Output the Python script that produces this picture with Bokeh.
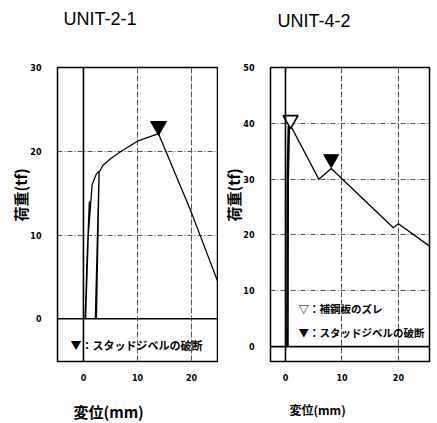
import math
from bokeh.plotting import figure
from bokeh.models import Range1d, FixedTicker, Span, Label, Title
from bokeh.layouts import row
from bokeh.embed import file_html
from bokeh.resources import INLINE

# ---- data ----
titles = ["UNIT-2-1", "UNIT-4-2"]
y_label = "荷重(tf)"
x_label = "変位(mm)"
legend_slip = "▽：補鋼板のズレ"
legend_break = "▼：スタッドジベルの破断"

x_ticks = [0, 10, 20]
y_ticks_21 = [0, 10, 20, 30]
y_ticks_42 = [0, 10, 20, 30, 40, 50]

# UNIT-2-1 load-displacement (with unloading loops)
u21_x = [0.3, 0.8, 1.1, 0.6, 0.4, 0.9, 1.6, 2.4, 2.9, 2.2, 2.4, 2.9, 3.6, 5.0, 7.0, 10.0, 13.9, 19.8, 25.0]
u21_y = [0.0, 9.0, 14.0, 6.0, 0.0, 10.0, 16.0, 17.3, 17.6, 0.0, 0.0, 17.5, 18.3, 19.1, 20.0, 21.2, 22.1, 13.0, 4.2]
u21_break_x = [13.9]
u21_break_y = [23.0]

# UNIT-4-2
u42_load_x = [0.35, 0.4, 0.6]
u42_load_y = [0.0, 30.0, 39.5]
u42_x = [0.6, 0.9, 5.9, 8.1, 19.1, 20.0, 25.5]
u42_y = [39.5, 39.6, 30.0, 31.9, 21.3, 22.0, 18.0]
u42_slip_x = [0.9]
u42_slip_y = [40.6]
u42_break_x = [8.1]
u42_break_y = [33.6]

CJK = "Noto Sans CJK JP"


def base_fig(width, xr, yr, yticks, border_left, border_top, border_right):
    p = figure(width=width, height=423, output_backend="svg", toolbar_location=None,
               x_range=Range1d(*xr), y_range=Range1d(*yr),
               min_border_left=border_left, min_border_right=border_right,
               min_border_top=border_top, min_border_bottom=62)
    p.background_fill_color = "white"
    p.border_fill_color = "white"
    p.outline_line_color = "black"
    p.outline_line_width = 1.5
    for ax in (p.xaxis[0], p.yaxis[0]):
        ax.axis_line_color = None
        ax.major_tick_line_color = None
        ax.minor_tick_line_color = None
        ax.major_label_text_font = "DejaVu Sans"
        ax.major_label_text_font_size = "8px"
        ax.major_label_text_font_style = "bold"
        ax.major_label_text_color = "black"
    p.xaxis.ticker = FixedTicker(ticks=x_ticks)
    p.yaxis.ticker = FixedTicker(ticks=yticks)
    p.xaxis.major_label_standoff = 6
    p.yaxis.major_label_standoff = 10
    p.xgrid.ticker = FixedTicker(ticks=x_ticks)
    p.ygrid.ticker = FixedTicker(ticks=yticks)
    p.xgrid.grid_line_color = "#555555"
    p.xgrid.grid_line_dash = "6 2"
    p.xgrid.grid_line_width = 1
    p.ygrid.grid_line_color = "#555555"
    p.ygrid.grid_line_dash = "5 2 1 2"
    p.ygrid.grid_line_width = 1
    p.add_layout(Span(location=0, dimension="height", line_color="black", line_width=1.6))
    p.add_layout(Span(location=0, dimension="width", line_color="black", line_width=1.6))
    return p


def spacer(p, side, px):
    # empty band that pushes the outer title away from the frame
    p.add_layout(Title(text=" ", text_font_size="2px", standoff=px), side)


def set_title(p, text, offset, gap):
    spacer(p, "above", gap)
    p.title.text = text
    p.title.align = "left"
    p.title.offset = offset
    p.title.standoff = 2
    p.title.text_font = "Liberation Sans"
    p.title.text_font_size = "18px"
    p.title.text_font_style = "normal"
    p.title.text_color = "black"


def add_side_title(p, text, side, offset, standoff, size="15px"):
    t = Title(text=text, align="left", offset=offset, standoff=standoff,
              text_font=CJK, text_font_size=size, text_font_style="bold",
              text_color="black")
    p.add_layout(t, side)


def add_text(p, x, y, text, size):
    p.add_layout(Label(x=x, y=y, text=text, text_font=CJK, text_font_size=size,
                       text_font_style="bold", text_color="black",
                       text_align="left", text_baseline="middle"))


# ---- UNIT-2-1 ----
p1 = base_fig(218, (-4.8, 25.0), (-5.1, 30.0), y_ticks_21, 57, 67, 0)
p1.line(u21_x, u21_y, line_color="black", line_width=1.3)
p1.scatter(u21_break_x, u21_break_y, marker="inverted_triangle", size=16,
           fill_color="black", line_color="black")
add_text(p1, -2.4, -3.1, legend_break, "11px")
set_title(p1, titles[0], 6, 34)
add_side_title(p1, y_label, "left", 140, -6)
spacer(p1, "below", 11)
add_side_title(p1, x_label, "below", 16, 0)

# ---- UNIT-4-2 ----
p2 = base_fig(219, (-2.65, 25.5), (-2.67, 50.0), y_ticks_42, 52, 65, 8)
p2.line(u42_load_x, u42_load_y, line_color="black", line_width=2.6)
p2.line(u42_x, u42_y, line_color="black", line_width=1.3)
p2.scatter(u42_slip_x, u42_slip_y, marker="inverted_triangle", size=15,
           fill_color="white", line_color="black", line_width=1.6)
p2.scatter(u42_break_x, u42_break_y, marker="inverted_triangle", size=15,
           fill_color="black", line_color="black")
add_text(p2, 2.3, 6.8, legend_slip, "10.5px")
add_text(p2, 2.3, 2.5, legend_break, "10.5px")
set_title(p2, titles[1], 7, 32)
add_side_title(p2, y_label, "left", 140, -6)
spacer(p2, "below", 11)
add_side_title(p2, x_label, "below", 19, 0, "12px")

layout = row(p1, p2)
open("out.html", "w").write(file_html(layout, INLINE))
